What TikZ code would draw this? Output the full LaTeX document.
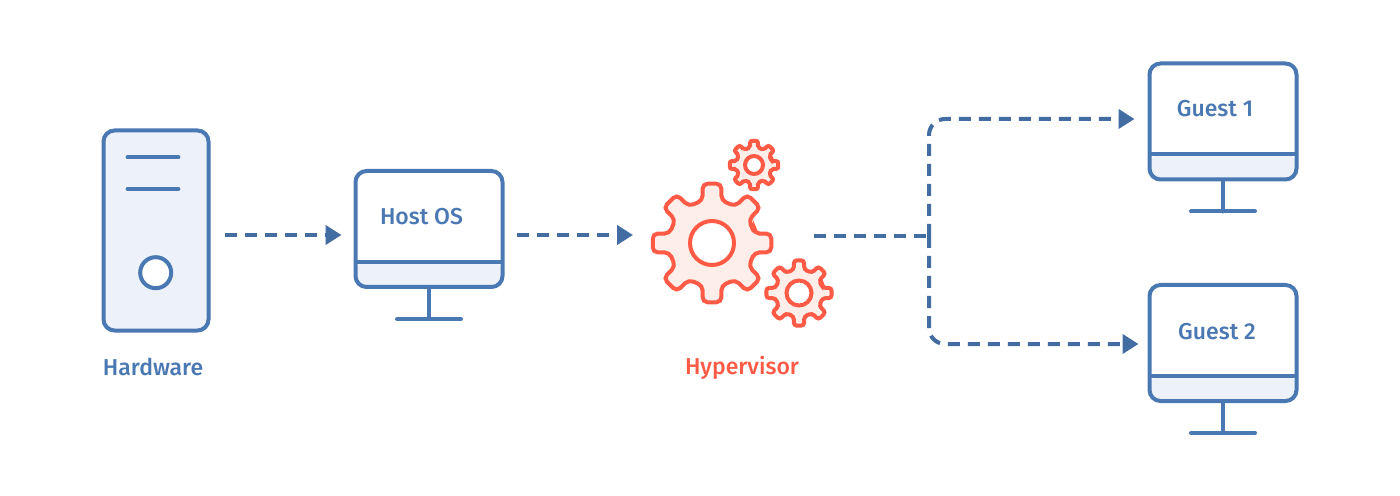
\documentclass[tikz,border=0pt]{standalone}
\usepackage{fontspec}
\setmainfont{Fira Sans Medium}
\usetikzlibrary{arrows.meta}

\definecolor{hvblue}{HTML}{4A78B2}
\definecolor{hvarrow}{HTML}{436CA3}
\definecolor{hvpale}{HTML}{EDF1F9}
\definecolor{hvred}{HTML}{FF5A45}
\definecolor{hvrose}{HTML}{FEEEEA}

% #1 name, #2 x, #3 y
\newcommand{\monitor}[3]{
    \node[screen] (#1) at (#2,#3) {};
    \coordinate (#1 foot) at ([yshift=-15pt]#1.south);
    \draw[outline] (#1.south) -- (#1 foot);
    \draw[outline] ([xshift=-16pt]#1 foot) -- ([xshift=16pt]#1 foot);
}

% #1 name, #2 x, #3 y, #4 outer radius, #5 root radius, #6 hole radius, #7 corner
\newcommand{\gear}[7]{
    \begin{scope}[shift={(#2,#3)}]
        \draw[gearline, rounded corners=#7] (-12.5:#5)
            \foreach \a in {0,45,...,315} {
                -- (\a-12.5:#5) -- (\a-9:#4) -- (\a+9:#4) -- (\a+12.5:#5)
            } -- cycle;
    \end{scope}
    \node[gearhole, minimum size=#6] (#1) at (#2,#3) {};
}

\begin{document}
\begin{tikzpicture}[x = 0.5pt, y = -0.5pt, % one unit is one pixel of the drawing
                >= {Triangle[length = 8pt, width = 9.5pt]} % arrow head style
            ]

            \tikzstyle{outline}=[draw = hvblue, line width = 2pt, line cap = round]
            \tikzstyle{box}=[outline, fill = hvpale, rectangle, rounded corners = 5.5pt,
            inner sep = 0pt]
            \tikzstyle{screen}=[box, fill = white, minimum width = 73.5pt, minimum height = 58pt,
            path picture = {
                \fill[hvpale] ([yshift = 12.7pt]path picture bounding box.south west)
                rectangle (path picture bounding box.south east);
                \draw[outline, line cap = butt] ([yshift = 12.7pt]path picture bounding box.south west)
                -- ([yshift = 12.7pt]path picture bounding box.south east);
            }]
            \tikzstyle{gearline}=[draw = hvred, fill = hvrose, line width = 2pt]
            \tikzstyle{gearhole}=[draw = hvred, fill = white, circle, line width = 2pt,
            inner sep = 0pt]
            \tikzstyle{flow}=[draw = hvarrow, line width = 2pt, dash pattern = on 6pt off 4pt]
            \tikzstyle{bluetext}=[text = hvblue, font = \fontsize{11.5pt}{13pt}\selectfont,
            inner sep = 0pt]
            \tikzstyle{redtext}=[bluetext, text = hvred]

            \useasboundingbox (0,0) rectangle (1400,496);

            % hardware
            \node[box, minimum width = 52.5pt, minimum height = 100pt] (hardware) at (156,230.5) {};
            \node[bluetext] (hardwarelabel) at (153,367) {Hardware};
            \coordinate (slot1) at (153,157.3);
            \coordinate (slot2) at (153,189);
            \draw[outline] ([xshift = -12.7pt]slot1) -- ([xshift = 12.7pt]slot1);
            \draw[outline] ([xshift = -12.7pt]slot2) -- ([xshift = 12.7pt]slot2);
            \node[gearhole, draw = hvblue, minimum size = 15.5pt] (power) at (155.7,272.7) {};

            % monitors
            \monitor{hostos}{429}{229}
            \monitor{guest1}{1223}{121.5}
            \monitor{guest2}{1223}{343}
            \node[bluetext] (hostlabel) at (421.5,217) {Host OS};
            \node[bluetext] (guest1label) at (1215,108.5) {Guest 1};
            \node[bluetext] (guest2label) at (1217,331.5) {Guest 2};

            % gears
            \gear{gear1}{712}{243}{60}{43.5}{22pt}{2.5pt}
            \gear{gear2}{754}{165}{24.5}{18}{9pt}{1pt}
            \gear{gear3}{799}{293}{33}{24}{12.5pt}{1.5pt}
            \node[redtext] (hypervisor) at (742,367.5) {Hypervisor};

            % connectors
            \coordinate (row) at (0,235);
            \coordinate (split) at (929,236);
            \coordinate (bend1) at (929,119);
            \coordinate (bend2) at (929,344);

            \draw[flow, ->, shorten < = 7pt, shorten > = 6pt] (hardware.east |- row) -- (hostos.west |- row);
            \draw[flow, ->, shorten < = 6pt, shorten > = 27.5pt] (hostos.east |- row) -- (gear1.west |- row);
            \draw[flow, shorten < = 39pt] (gear1.east |- split) -- (split);
            \draw[flow, ->, rounded corners = 8pt, shorten > = 6.5pt] (split) -- (bend1) -- (guest1.west |- bend1);
            \draw[flow, ->, rounded corners = 8pt, shorten > = 4.5pt] (split) -- (bend2) -- (guest2.west |- bend2);
\end{tikzpicture}
\end{document}
